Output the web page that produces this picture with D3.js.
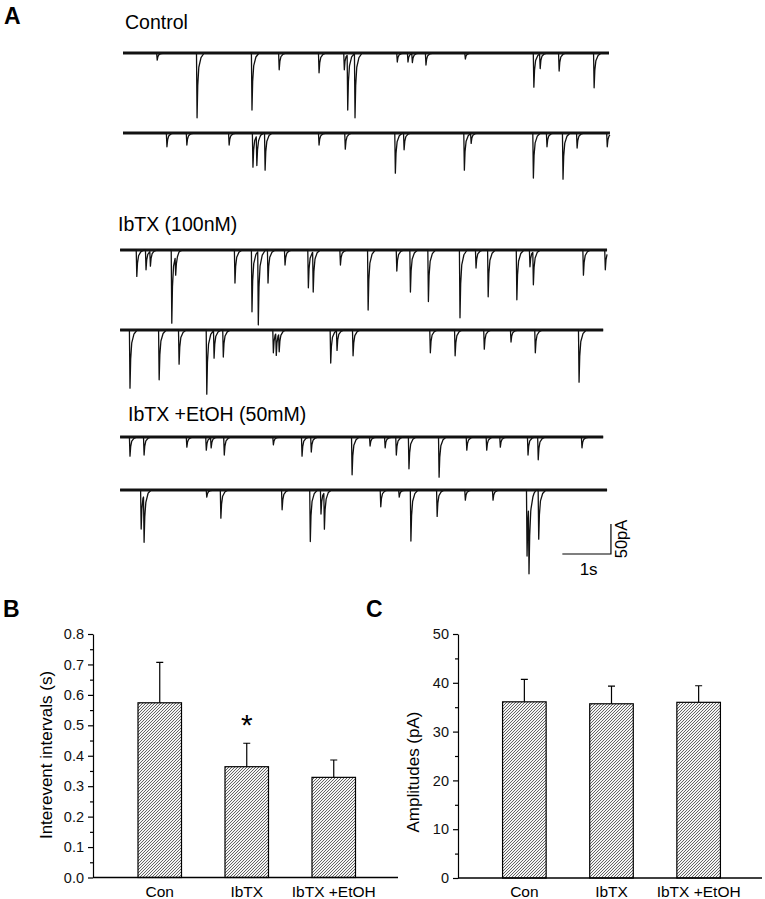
<!DOCTYPE html>
<html>
<head>
<meta charset="utf-8">
<script src="https://cdn.jsdelivr.net/npm/d3@7"></script>
<style>
  body { margin: 0; background: #fff; }
  svg { display: block; font-family: Arial, "Liberation Sans", sans-serif; }
</style>
</head>
<body>
<svg id="fig" width="765" height="899"></svg>
<script>
// ---- panel A: sweep labels and events, [time (s), amplitude (pA)] ----
const sweepLabels = ["Control", "IbTX (100nM)", "IbTX +EtOH (50mM)"];

const control1 = [
  [0.70, 12], [1.52, 108], [2.65, 95], [3.21, 28], [4.03, 33], [4.55, 28],
  [4.62, 92], [4.77, 108], [5.64, 15], [5.86, 15], [5.95, 15], [6.23, 20],
  [7.04, 10], [8.45, 57], [8.58, 25], [8.97, 30], [9.69, 58]
];
const control2 = [
  [0.90, 23], [1.31, 20], [2.18, 20], [2.67, 57], [2.75, 50], [2.92, 62],
  [4.03, 20], [4.57, 27], [5.60, 67], [5.78, 28], [7.02, 62], [7.16, 17],
  [8.44, 75], [8.72, 23], [9.05, 77], [9.34, 25], [9.96, 23]
];
const ibtx1 = [
  [0.28, 44], [0.47, 33], [0.56, 25], [1.00, 122], [1.08, 33], [2.30, 55],
  [2.65, 103], [2.78, 123], [2.98, 55], [3.33, 25], [3.81, 63], [3.91, 67],
  [4.47, 25], [5.04, 100], [5.63, 35], [5.91, 70], [6.28, 86], [6.93, 113],
  [7.26, 30], [7.51, 78], [8.10, 83], [8.37, 28], [8.44, 55], [9.47, 42],
  [9.92, 33]
];
const ibtx2 = [
  [0.14, 97], [0.74, 83], [1.15, 57], [1.72, 107], [1.87, 47], [2.06, 45],
  [3.09, 38], [3.15, 37], [3.21, 30], [4.27, 55], [4.40, 33], [4.73, 43],
  [6.32, 38], [6.83, 43], [7.43, 32], [7.98, 20], [8.48, 38], [9.38, 87]
];
const etoh1 = [
  [0.14, 32], [0.43, 30], [1.31, 17], [1.71, 22], [1.81, 17], [2.08, 30],
  [3.09, 13], [3.68, 32], [3.87, 25], [4.71, 63], [5.08, 15], [5.39, 18],
  [5.62, 30], [5.88, 53], [6.50, 67], [7.07, 22], [7.48, 22], [7.76, 17],
  [8.33, 30], [8.54, 38], [9.44, 18]
];
const etoh2 = [
  [0.37, 65], [0.43, 78], [1.72, 12], [2.01, 47], [3.27, 33], [3.85, 86],
  [4.07, 40], [4.14, 61], [5.30, 28], [5.68, 12], [5.92, 85], [6.46, 44],
  [7.04, 17], [7.61, 17], [8.31, 110], [8.35, 117], [8.55, 82]
];
const sweeps = [control1, control2, ibtx1, ibtx2, etoh1, etoh2];
const sweepSpans = [[0, 10], [0, 10.02], [-0.06, 9.96], [-0.06, 9.88], [-0.06, 9.88], [-0.06, 9.96]];

// ---- panels B and C ----
const categories = ["Con", "IbTX", "IbTX +EtOH"];
const intervalMean = [0.574, 0.364, 0.329];
const intervalSem = [0.133, 0.077, 0.057];
const ampMean = [36.1, 35.7, 36.0];
const ampSem = [4.6, 3.6, 3.4];
const intervalTicks = [0, 0.1, 0.2, 0.3, 0.4, 0.5, 0.6, 0.7, 0.8];
const ampTicks = [0, 10, 20, 30, 40, 50];

const svg = d3.select("#fig");

// hatch fill
const pat = svg.append("defs").append("pattern")
  .attr("id", "hatch")
  .attr("patternUnits", "userSpaceOnUse")
  .attr("width", 3)
  .attr("height", 3);
pat.append("rect").attr("width", 3).attr("height", 3).attr("fill", "#f4f4f4");
pat.append("path")
  .attr("d", "M-1,1 L1,-1 M0,3 L3,0 M2,4 L4,2")
  .attr("stroke", "#555")
  .attr("stroke-width", 0.9);

// panel letters
const letter = (t, x, y) => svg.append("text")
  .attr("x", x).attr("y", y)
  .attr("font-size", 23).attr("font-weight", "bold")
  .text(t);
letter("A", 4, 24);
letter("B", 3, 617);
letter("C", 366, 617);

// ---- traces ----
const tx = d3.scaleLinear().domain([0, 10]).range([123, 609]);
const ty = d3.scaleLinear().domain([0, 50]).range([0, 30]);
const baseY = [53, 133, 250, 330, 437, 490];
const labelPos = [[125, 29], [118, 231], [128, 421]];

// event waveform, time offsets (s) and fraction of peak
const kernel = [[-0.008, 0], [0.004, 1], [0.018, 0.5], [0.04, 0.22], [0.085, 0.07], [0.15, 0]];
function kval(dt) {
  if (dt <= kernel[0][0] || dt >= kernel[kernel.length - 1][0]) return 0;
  for (let i = 1; i < kernel.length; i++) {
    if (dt <= kernel[i][0]) {
      const [t0, v0] = kernel[i - 1];
      const [t1, v1] = kernel[i];
      return v0 + (v1 - v0) * (dt - t0) / (t1 - t0);
    }
  }
  return 0;
}

function tracePoints(events, span) {
  let times = [span[0], span[1]];
  events.forEach(e => kernel.forEach(k => {
    const t = e[0] + k[0];
    if (t > span[0] && t < span[1]) times.push(t);
  }));
  times = Array.from(new Set(times)).sort((a, b) => a - b);
  return times.map(t => [t, d3.sum(events, e => e[1] * kval(t - e[0]))]);
}

sweepLabels.forEach((s, i) => {
  svg.append("text")
    .attr("x", labelPos[i][0])
    .attr("y", labelPos[i][1])
    .attr("font-size", 19.5)
    .text(s);
});

sweeps.forEach((ev, i) => {
  const b = baseY[i];
  const span = sweepSpans[i];
  // noisy baseline band
  svg.append("line")
    .attr("x1", tx(span[0])).attr("x2", tx(span[1]))
    .attr("y1", b).attr("y2", b)
    .attr("stroke", "#151515")
    .attr("stroke-width", 3.2);
  const line = d3.line()
    .x(d => tx(d[0]))
    .y(d => b + ty(d[1]));
  svg.append("path")
    .datum(tracePoints(ev, span))
    .attr("d", line)
    .attr("fill", "none")
    .attr("stroke", "#111")
    .attr("stroke-width", 1.3)
    .attr("stroke-linejoin", "round");
});

// scale bar: 1 s, 50 pA
const sbX = tx(10.04), sbY = 554;
svg.append("path")
  .attr("d", `M${sbX - (tx(1) - tx(0))},${sbY} H${sbX} V${sbY - ty(50)}`)
  .attr("fill", "none")
  .attr("stroke", "#000")
  .attr("stroke-width", 1.2);
svg.append("text")
  .attr("x", sbX - (tx(1) - tx(0)) / 2 + 2)
  .attr("y", 575)
  .attr("text-anchor", "middle")
  .attr("font-size", 17)
  .text("1s");
svg.append("text")
  .attr("transform", `translate(627, ${sbY - ty(50) / 2}) rotate(-90)`)
  .attr("text-anchor", "middle")
  .attr("font-size", 16.5)
  .text("50pA");

// ---- bar charts ----
function barChart(o) {
  const g = svg.append("g");
  const y = d3.scaleLinear().domain(o.domain).range([o.y0, o.y1]);
  const x = d3.scaleBand().domain(categories).range(o.xr).padding(0.5);

  g.selectAll("rect.bar")
    .data(categories)
    .join("rect")
    .attr("class", "bar")
    .attr("x", d => x(d))
    .attr("width", x.bandwidth())
    .attr("y", (d, i) => y(o.mean[i]))
    .attr("height", (d, i) => y(0) - y(o.mean[i]))
    .attr("fill", "url(#hatch)")
    .attr("stroke", "#000")
    .attr("stroke-width", 1.2);

  // upper error bars
  categories.forEach((c, i) => {
    const cx = x(c) + x.bandwidth() / 2;
    const top = y(o.mean[i] + o.sem[i]);
    g.append("path")
      .attr("d", `M${cx},${y(o.mean[i])} V${top} M${cx - 3.5},${top} H${cx + 3.5}`)
      .attr("stroke", "#000")
      .attr("stroke-width", 1.2)
      .attr("fill", "none");
  });

  // minor ticks
  const minor = [];
  for (let i = 0; i < o.ticks.length - 1; i++) minor.push((o.ticks[i] + o.ticks[i + 1]) / 2);
  const mg = g.append("g")
    .attr("transform", `translate(${o.ax},0)`)
    .call(d3.axisLeft(y).tickValues(minor).tickSize(3).tickFormat(""));
  mg.select(".domain").remove();

  const ag = g.append("g")
    .attr("transform", `translate(${o.ax},0)`)
    .call(d3.axisLeft(y).tickValues(o.ticks).tickSize(5).tickSizeOuter(0)
      .tickPadding(4).tickFormat(o.fmt));
  ag.selectAll("text").attr("font-size", 14.5).attr("font-family", null).attr("fill", "#111");
  g.selectAll(".domain, .tick line").attr("stroke", "#000").attr("stroke-width", 1.2);

  // x axis line
  g.append("line")
    .attr("x1", o.ax).attr("x2", o.xEnd)
    .attr("y1", y(0)).attr("y2", y(0))
    .attr("stroke", "#000")
    .attr("stroke-width", 1.3);

  g.selectAll("text.cat")
    .data(categories)
    .join("text")
    .attr("class", "cat")
    .attr("x", d => x(d) + x.bandwidth() / 2)
    .attr("y", 897)
    .attr("text-anchor", "middle")
    .attr("font-size", 15.5)
    .text(d => d);

  g.append("text")
    .attr("transform", `translate(${o.titleX}, ${o.titleY}) rotate(-90)`)
    .attr("text-anchor", "middle")
    .attr("font-size", 17)
    .text(o.title);

  return { x, y, g };
}

const b = barChart({
  domain: [0, 0.8], y0: 877.5, y1: 634, xr: [94.5, 399], ax: 93, xEnd: 398,
  mean: intervalMean, sem: intervalSem, ticks: intervalTicks, fmt: d3.format(".1f"),
  title: "Interevent intervals (s)", titleX: 52, titleY: 755
});
// significance mark over IbTX
b.g.append("text")
  .attr("x", b.x("IbTX") + b.x.bandwidth() / 2)
  .attr("y", b.y(intervalMean[1] + intervalSem[1]) - 8)
  .attr("text-anchor", "middle")
  .attr("font-size", 30)
  .text("*");

barChart({
  domain: [0, 50], y0: 878, y1: 634, xr: [459, 764], ax: 458, xEnd: 762,
  mean: ampMean, sem: ampSem, ticks: ampTicks, fmt: d3.format("d"),
  title: "Amplitudes (pA)", titleX: 419, titleY: 772
});
</script>
</body>
</html>
